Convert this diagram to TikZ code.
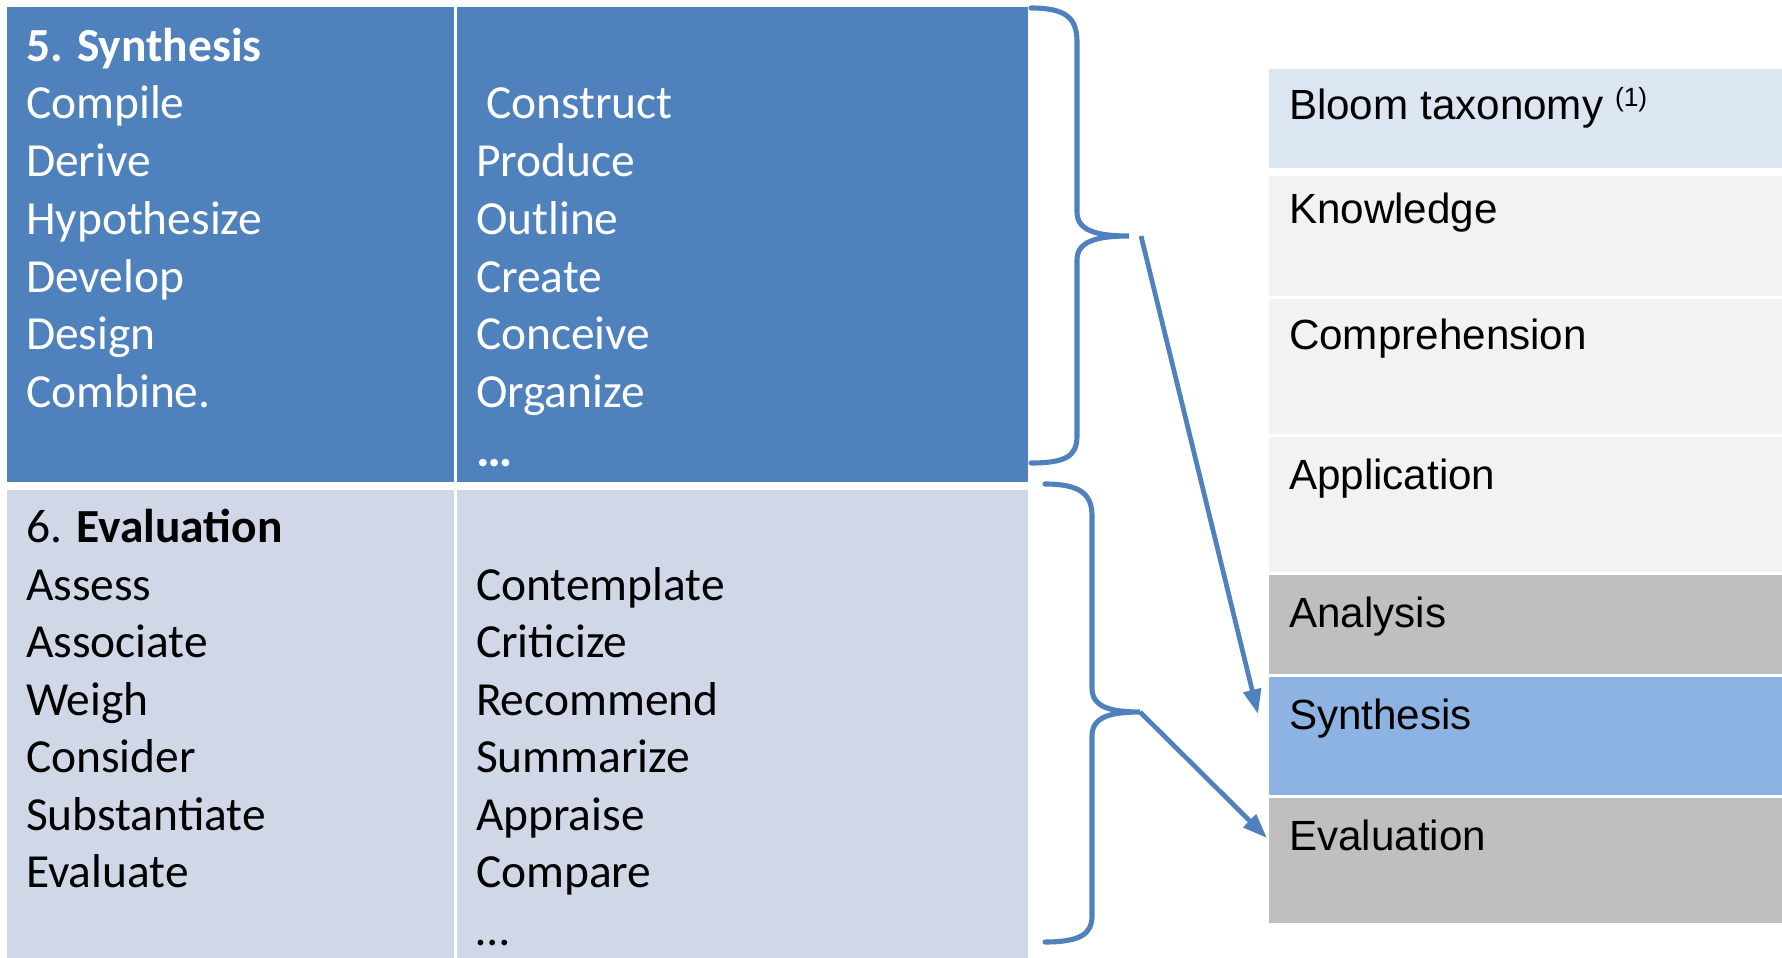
\documentclass[tikz,border=0pt]{standalone}
\usepackage{fontspec}
\setmainfont{Carlito}
\newfontfamily\arialfont{Liberation Sans}
\usetikzlibrary{arrows.meta}
\definecolor{tblue}{HTML}{4F81BD}
\definecolor{tlight}{HTML}{D0D8E8}
\definecolor{hdr}{HTML}{DCE6F2}
\definecolor{pale}{HTML}{F2F2F2}
\definecolor{midgrey}{HTML}{BFBFBF}
\definecolor{synblue}{HTML}{8DB3E2}
\definecolor{bracec}{HTML}{4F81BD}

\begin{document}
\begin{tikzpicture}[x=0.01cm,y=-0.01cm,
  word/.style={anchor=base west, inner sep=0pt, outer sep=0pt, font=\fontsize{13.5}{16.5}\selectfont},
  wword/.style={word, text=white},
  bword/.style={word, text=black},
  level/.style={anchor=base west, inner sep=0pt, outer sep=0pt, font=\arialfont\fontsize{12}{14}\selectfont},
  brace/.style={draw=bracec, line width=1.45pt, line cap=round},
  link/.style={draw=bracec, line width=1.35pt, -{Triangle[length=7pt,width=5pt]}}]
\useasboundingbox (0,0) rectangle (1782,958);

% verb table: synthesis (dark) and evaluation (light)
\fill[tblue] (7,7) rectangle (1028,482);
\fill[tlight] (7,490) rectangle (1028,958);
\draw[white, line width=0.03cm] (455,7) -- (455,958);

% synthesis verbs
\node[wword, font=\fontsize{13.5}{16.5}\selectfont\bfseries] (synh) at (26,62) {5. Synthesis};
\foreach \w [count=\i] in {Compile,Derive,Hypothesize,Develop,Design,Combine.}
  \node[wword] (sa\i) at (26,{61+57.8*\i}) {\w};
\node[wword] (sb1) at (486,119) {Construct};
\foreach \w [count=\i from 2] in {Produce,Outline,Create,Conceive,Organize}
  \node[wword] (sb\i) at (476,{61+57.8*\i}) {\w};
\node[wword, font=\fontsize{14.5}{16.5}\selectfont\bfseries] (sbdots) at (476,466) {…};

% evaluation verbs
\node[bword] (evh) at (26,542) {6. \textbf{Evaluation}};
\foreach \w [count=\i] in {Assess,Associate,Weigh,Consider,Substantiate,Evaluate}
  \node[bword] (ea\i) at (26,{542.5+57.5*\i}) {\w};
\foreach \w [count=\i] in {Contemplate,Criticize,Recommend,Summarize,Appraise,Compare}
  \node[bword] (eb\i) at (476,{542.5+57.5*\i}) {\w};
\node[bword] (ebdots) at (476,945) {…};

% taxonomy levels
\fill[hdr] (1269,69) rectangle (1782,168);
\fill[pale] (1269,176) rectangle (1782,296);
\fill[pale] (1269,299) rectangle (1782,434);
\fill[pale] (1269,437) rectangle (1782,572);
\fill[midgrey] (1269,575) rectangle (1782,674);
\fill[synblue] (1269,677) rectangle (1782,795);
\fill[midgrey] (1269,798) rectangle (1782,923);

\node[level] (bloom) at (1289,120) {Bloom taxonomy \raisebox{0.6ex}{\fontsize{7.5}{9}\selectfont(1)}};
\node[level] (know) at (1289,224) {Knowledge};
\node[level] (comp) at (1289,350) {Comprehension};
\node[level] (appl) at (1289,489) {Application};
\node[level] (anal) at (1289,627) {Analysis};
\node[level] (synt) at (1289,729) {Synthesis};
\node[level] (eval) at (1289,850) {Evaluation};

% braces grouping the two verb lists
\coordinate (tipA) at (1129,236);
\coordinate (tipB) at (1140,712);
\draw[brace] (1031,8) .. controls (1066,8) and (1077,18) .. (1077,42)
  -- (1077,212) .. controls (1077,230) and (1095,236) .. (tipA)
  .. controls (1095,236) and (1077,242) .. (1077,260)
  -- (1077,436) .. controls (1077,456) and (1066,463) .. (1031,463);
\draw[brace] (1045,484) .. controls (1080,484) and (1092,494) .. (1092,516)
  -- (1092,688) .. controls (1092,706) and (1108,712) .. (tipB)
  .. controls (1108,712) and (1092,718) .. (1092,736)
  -- (1092,916) .. controls (1092,934) and (1080,942) .. (1045,942);

% links from the braces to the matching levels
\coordinate (endA) at (1258,714);
\coordinate (endB) at (1267,838);
\draw[link] ([xshift=0.12cm]tipA) -- (endA);
\draw[link] (tipB) -- (endB);
\end{tikzpicture}
\end{document}
